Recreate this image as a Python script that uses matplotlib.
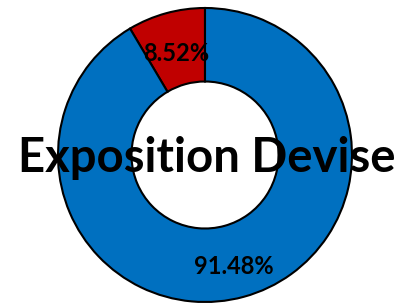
import matplotlib
matplotlib.use("Agg")
import matplotlib.pyplot as plt

labels = ["Devise", "Autre"]
values = [8.52, 91.48]
colors = ["#C00000", "#0070C0"]
title = "Exposition Devise"

fig = plt.figure(figsize=(3.94, 3.05), dpi=100)
ax = fig.add_axes([0, 0, 1, 1])

wedges, texts, autotexts = ax.pie(
    values, colors=colors, startangle=90, counterclock=True,
    autopct="%.2f%%", pctdistance=0.75,
    wedgeprops=dict(width=0.5, edgecolor="black", linewidth=1.5),
    textprops=dict(fontsize=17, fontweight="bold", family="Lato", color="black"),
)
# labels sit a touch lower in the original
for t in autotexts:
    x, y = t.get_position()
    t.set_position((x, y - 0.035))

ax.text(0.01, -0.02, title, ha="center", va="center", fontsize=34,
        fontweight="bold", family="Lato")

ax.set_aspect("auto")
ax.set_xlim(-205 / 147, (394 - 205) / 147)
ax.set_ylim(-(305 - 155) / 147, 155 / 147)
ax.axis("off")

fig.savefig("out.png", dpi=100)
